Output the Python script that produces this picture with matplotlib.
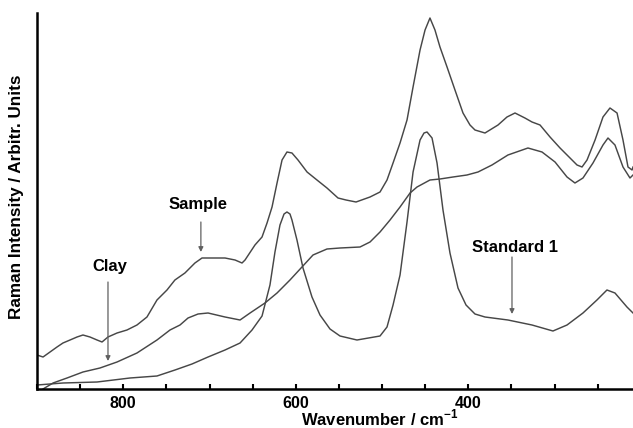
import numpy as np
import matplotlib.pyplot as plt

plt.rcParams["font.family"] = ["Liberation Sans", "DejaVu Sans"]
plt.rcParams["mathtext.fontset"] = "custom"
plt.rcParams["mathtext.rm"] = "Liberation Sans"
plt.rcParams["mathtext.bf"] = "Liberation Sans:bold"

# ── Spectra (wavenumber / cm-1, intensity in arbitrary units) ──
sample_wn = [900.0, 893.0, 884.9, 876.8, 869.9, 861.7, 853.6, 846.7, 838.6, 830.4,
             824.6, 817.7, 807.2, 795.7, 784.1, 772.5, 760.9, 749.3, 740.1, 728.5,
             716.9, 708.7, 697.1, 682.0, 670.4, 662.3, 658.8, 647.3, 639.1, 633.3,
             627.5, 621.7, 615.9, 610.2, 604.4, 597.4, 586.9, 575.4, 563.8, 551.0,
             541.7, 530.1, 513.9, 502.3, 494.2, 487.2, 479.1, 471.0, 464.0, 455.9,
             450.1, 444.4, 438.6, 432.8, 424.6, 415.4, 406.1, 398.0, 392.2, 380.6,
             365.5, 355.1, 345.8, 334.3, 326.1, 316.8, 305.2, 293.6, 282.0, 273.9,
             268.1, 262.3, 253.0, 243.8, 235.7, 227.5, 220.6, 214.8, 210.1, 209.0]
sample_int = [34, 32, 37, 42, 46, 49, 52, 54, 52, 49,
              47, 52, 56, 59, 64, 72, 89, 99, 109, 116,
              126, 131, 131, 131, 129, 126, 129, 144, 152, 166,
              182, 206, 229, 237, 236, 229, 217, 209, 201, 191,
              189, 187, 192, 197, 209, 226, 246, 269, 302, 339,
              359, 371, 359, 342, 322, 299, 276, 264, 259, 256,
              264, 272, 276, 271, 267, 264, 252, 241, 231, 224,
              222, 229, 249, 272, 281, 276, 249, 222, 219, 222]

clay_wn = [893.0, 881.4, 865.2, 846.7, 827.0, 807.2, 784.1, 760.9, 745.8, 734.2,
           724.9, 713.3, 701.7, 682.0, 664.6, 653.0, 635.7, 621.7, 606.7, 592.8,
           580.0, 563.8, 548.7, 525.5, 513.9, 502.3, 490.7, 479.1, 467.5, 459.4,
           444.4, 432.8, 417.7, 401.5, 388.7, 372.5, 354.0, 330.8, 314.5, 299.4,
           285.5, 276.3, 267.0, 255.4, 243.8, 238.0, 229.9, 220.6, 212.5, 209.0]
clay_int = [0, 6, 11, 17, 21, 27, 36, 49, 59, 64,
            71, 75, 76, 72, 69, 76, 86, 96, 109, 122,
            134, 140, 141, 142, 147, 157, 169, 182, 196, 202,
            209, 210, 212, 214, 217, 224, 234, 241, 237, 227,
            212, 206, 211, 226, 244, 251, 244, 222, 211, 214]

std_wn = [900.0, 869.9, 830.4, 792.2, 760.9, 740.0, 720.3, 701.7, 682.0, 664.6,
          650.7, 639.1, 629.9, 624.1, 618.3, 613.6, 610.2, 606.7, 604.4, 598.6,
          591.6, 581.2, 571.9, 560.3, 548.7, 529.0, 502.3, 494.2, 487.2, 479.1,
          471.0, 464.0, 455.9, 451.3, 447.8, 442.0, 436.2, 429.3, 421.2, 411.9,
          402.6, 392.2, 380.6, 354.0, 326.1, 301.8, 285.5, 267.0, 250.8, 239.2,
          229.9, 216.0, 209.0]
std_int = [4, 6, 7, 11, 13, 19, 25, 32, 39, 46,
           59, 73, 104, 137, 164, 175, 177, 175, 169, 149,
           121, 92, 74, 60, 53, 49, 53, 62, 84, 114,
           167, 217, 249, 256, 257, 251, 226, 179, 136, 101,
           84, 75, 72, 69, 64, 58, 64, 76, 89, 99,
           96, 82, 76]

# labels: text, text position (wn, int), arrow x, arrow start/end intensity
labels = ["Sample", "Clay", "Standard 1"]
label_pos = [(713, 184), (816, 122), (346, 142)]
arrow_x = [710, 817.7, 349.3]
arrow_from = [167, 107, 132]
arrow_to = [137, 28, 75]

# ── Plot ───────────────────────────────────────────────────────
fig = plt.figure(figsize=(6.33, 4.28), dpi=100)
ax = fig.add_axes([37 / 633, 1 - 389 / 428, 596 / 633, 376 / 428])

line_kw = dict(color="#474747", linewidth=1.05)
ax.plot(sample_wn, sample_int, **line_kw)
ax.plot(clay_wn, clay_int, **line_kw)
ax.plot(std_wn, std_int, **line_kw)

for txt, (tx, ty), axx, a0, a1 in zip(labels, label_pos, arrow_x, arrow_from, arrow_to):
    ax.text(tx, ty, txt, ha="center", va="center", fontsize=12, fontweight="bold")
    ax.annotate("", xy=(axx, a1), xytext=(axx, a0),
                arrowprops=dict(arrowstyle="-|>", color="#606060", lw=0.9,
                                mutation_scale=7, shrinkA=0, shrinkB=0))

ax.set_xlim(900, 209)
ax.set_ylim(0, 376)

ticks = np.arange(900, 200, -50)
ax.set_xticks(ticks)
ax.set_xticklabels([str(t) if t in (800, 600, 400) else "" for t in ticks],
                   fontsize=11.5, fontweight="bold")
ax.tick_params(axis="x", direction="in", length=3.5, width=1.5, pad=5)
ax.set_yticks([])

ax.set_xlabel(r"Wavenumber / cm$^{\mathbf{-1}}$", fontsize=12, fontweight="bold")
ax.xaxis.set_label_coords(0.575, -0.05)
ax.set_ylabel("Raman Intensity / Arbitr. Units", fontsize=12.3, fontweight="bold")
ax.yaxis.set_label_coords(-0.021, 0.51)

for s in ("top", "right"):
    ax.spines[s].set_visible(False)
for s in ("left", "bottom"):
    ax.spines[s].set_linewidth(1.8)

fig.savefig("out.png", dpi=100)
